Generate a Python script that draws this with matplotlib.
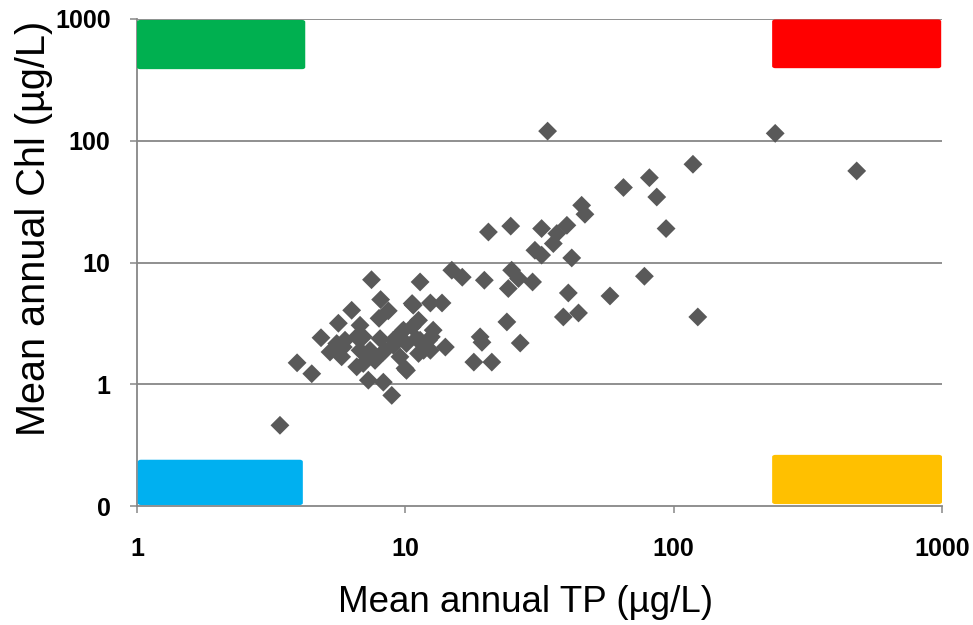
import matplotlib
matplotlib.use("Agg")
import matplotlib.pyplot as plt
from matplotlib.patches import FancyBboxPatch
from matplotlib.ticker import FixedLocator, FixedFormatter, NullLocator

plt.rcParams['font.family'] = ['Liberation Sans', 'DejaVu Sans']

# Mean annual TP (µg/L)
tp = [3.41, 3.95, 4.48, 4.85, 5.24, 5.63, 6.31, 7.48, 8.09, 8.64,
      7.98, 6.78, 5.79, 5.55, 6.59, 6.78, 6.59, 5.96, 6.97, 8.05,
      7.39, 8.28, 6.97, 7.28, 8.28, 8.90, 9.02, 10.1, 9.84, 9.55,
      9.97, 11.35, 12.5, 14.1, 11.2, 12.4, 10.6, 11.2, 10.6, 12.4,
      13.7, 11.35, 14.9, 16.3, 19.7, 20.4, 24.7, 32.2, 40.0, 36.7,
      35.6, 30.4, 32.2, 41.7, 45.4, 46.7, 33.9, 65.0, 81.2, 86.5,
      118, 93.7, 239, 481, 77.8, 57.9, 123, 24.9, 26.4, 24.2,
      29.8, 40.5, 38.8, 44.2, 23.9, 19.0, 19.3, 26.8, 18.0, 21.0,
      10.7, 5.87, 8.40, 7.71, 11.7, 12.2, 12.7, 9.02, 9.70, 11.0,
      10.1, 7.39]
# Mean annual Chl (µg/L)
chl = [0.46, 1.50, 1.22, 2.41, 1.84, 3.17, 4.05, 7.22, 4.96, 4.01,
       3.48, 3.05, 1.68, 2.16, 2.45, 1.90, 1.39, 2.30, 2.45, 2.37,
       1.79, 1.84, 1.48, 1.08, 1.04, 0.81, 2.09, 2.16, 2.78, 1.68,
       1.35, 2.30, 2.45, 2.02, 1.79, 1.90, 2.96, 3.35, 4.60, 4.65,
       4.65, 6.92, 8.64, 7.57, 7.15, 17.8, 19.9, 19.0, 20.2, 17.3,
       14.3, 12.6, 11.5, 10.9, 29.5, 24.9, 120, 41.3, 49.7, 34.5,
       64.1, 19.0, 115, 56.5, 7.71, 5.31, 3.57, 8.64, 7.38, 6.11,
       6.92, 5.62, 3.57, 3.85, 3.25, 2.45, 2.21, 2.18, 1.52, 1.52,
       4.46, 2.02, 1.90, 1.57, 1.90, 2.30, 2.78, 2.30, 2.69, 2.37,
       1.30, 1.90]

x_ticks = [1, 10, 100, 1000]
x_labels = ["1", "10", "100", "1000"]
y_ticks = [0.1, 1, 10, 100, 1000]
y_labels = ["0", "1", "10", "100", "1000"]

grid_col = "#878787"
fig = plt.figure(figsize=(9.73, 6.25), dpi=100)
ax = fig.add_axes([137/973, 1-506/625, 805/973, 487/625])
ax.set_xscale("log")
ax.set_yscale("log")
ax.set_xlim(1, 1000)
ax.set_ylim(0.1, 1000)

ax.scatter(tp, chl, marker="D", s=9.6**2, color="#595959", edgecolors="none", zorder=4)

ax.xaxis.set_major_locator(FixedLocator(x_ticks))
ax.xaxis.set_major_formatter(FixedFormatter(x_labels))
ax.xaxis.set_minor_locator(NullLocator())
ax.yaxis.set_major_locator(FixedLocator(y_ticks))
ax.yaxis.set_major_formatter(FixedFormatter(y_labels))
ax.yaxis.set_minor_locator(NullLocator())

for v in y_ticks[1:]:
    ax.axhline(v, color=grid_col, lw=1.3, zorder=1)

for s in ["top", "right"]:
    ax.spines[s].set_visible(False)
for s in ["bottom", "left"]:
    ax.spines[s].set_color(grid_col)
    ax.spines[s].set_linewidth(1.3)

ax.tick_params(axis="both", direction="out", length=5, width=1.1, color=grid_col,
               labelsize=18)
for lab in ax.get_xticklabels() + ax.get_yticklabels():
    lab.set_fontweight("bold")
ax.tick_params(axis="x", pad=17)
ax.tick_params(axis="y", pad=14)

# corner boxes (axes fraction)
boxes = [
    ((0.0, 0.897), 0.209, 0.101, "#00B050"),
    ((0.789, 0.899), 0.210, 0.100, "#FF0000"),
    ((0.001, 0.002), 0.205, 0.093, "#00B0F0"),
    ((0.789, 0.004), 0.211, 0.101, "#FFC000"),
]
for (x0, y0), w, h, c in boxes:
    p = FancyBboxPatch((x0, y0), w, h, boxstyle="round,pad=0,rounding_size=0.004",
                       transform=ax.transAxes, facecolor=c, edgecolor="none",
                       zorder=3, clip_on=False)
    ax.add_patch(p)

fig.text(525/973, 1-603/625, "Mean annual TP (µg/L)", fontsize=26.5,
         ha="center", va="center")
fig.text(34/973, 1-228/625, "Mean annual Chl (µg/L)", fontsize=28.5,
         ha="center", va="center", rotation=90)

fig.savefig("out.png", dpi=100)
